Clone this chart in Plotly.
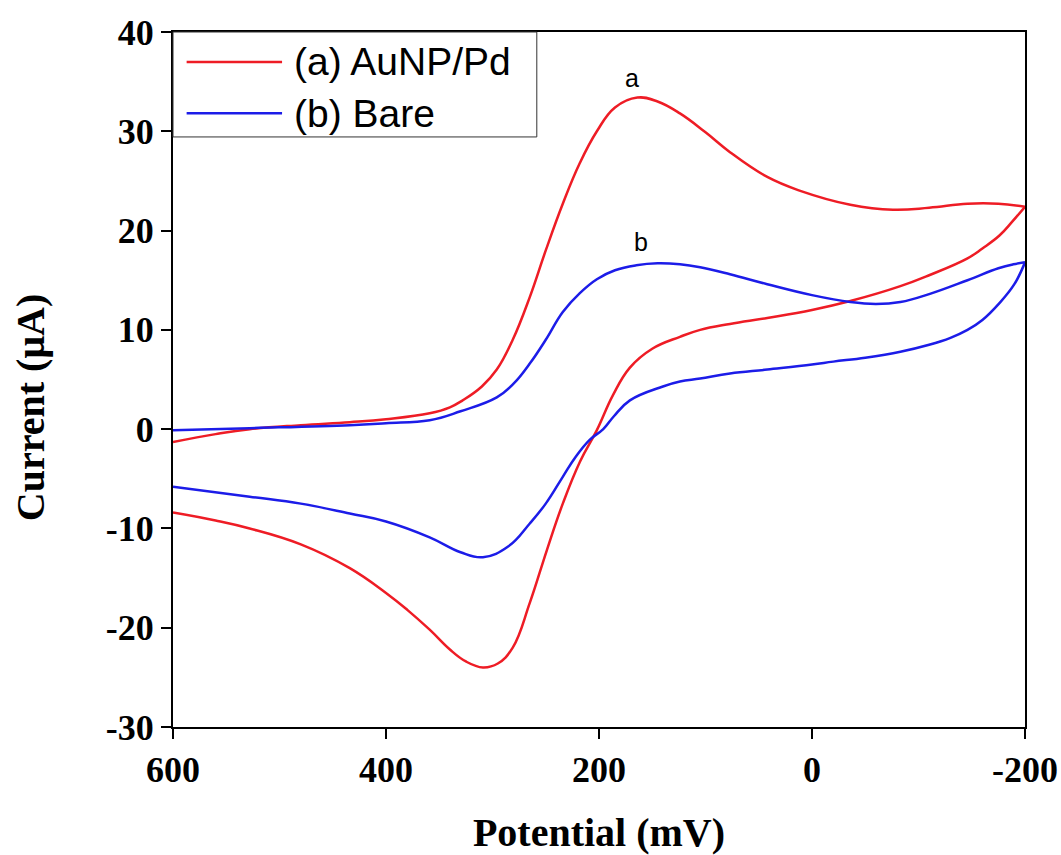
import plotly.graph_objects as go

# ---- data (potential in mV, current in µA) ----
pot_a_fwd = [600, 560, 528, 480, 434, 400, 359, 340, 328, 310, 296, 281, 265, 250, 234, 218, 202, 185, 164, 145, 124, 100, 77, 42, 11, -36, -76, -110, -146, -175, -200]
cur_a_fwd = [-1.3, -0.5, 0.0, 0.4, 0.7, 1.0, 1.6, 2.2, 2.9, 4.3, 6.0, 9.0, 13.3, 18.0, 22.7, 26.8, 30.0, 32.4, 33.4, 33.0, 31.8, 29.9, 27.9, 25.4, 24.0, 22.6, 22.1, 22.3, 22.7, 22.7, 22.4]
pot_a_rev = [-200, -188, -176, -160, -146, -110, -83, -36, 0, 42, 77, 105, 124, 150, 171, 187, 202, 218, 234, 249, 265, 281, 295, 309, 325, 340, 359, 380, 400, 434, 480, 528, 560, 600]
cur_a_rev = [22.4, 20.9, 19.5, 18.2, 17.2, 15.5, 14.4, 12.9, 12.0, 11.2, 10.6, 10.0, 9.3, 8.1, 6.2, 3.4, -0.1, -3.3, -7.5, -12.2, -17.5, -22.0, -23.6, -24.0, -23.4, -22.2, -20.2, -18.2, -16.5, -14.0, -11.6, -10.0, -9.2, -8.4]

pot_b_fwd = [600, 528, 434, 400, 359, 330, 296, 280, 265, 250, 234, 218, 202, 185, 165, 145, 124, 105, 77, 42, 0, -36, -60, -83, -110, -146, -175, -189, -200]
cur_b_fwd = [-0.1, 0.1, 0.4, 0.6, 0.9, 1.8, 3.2, 4.6, 6.6, 9.0, 11.8, 13.7, 15.1, 16.0, 16.5, 16.7, 16.6, 16.3, 15.6, 14.6, 13.5, 12.8, 12.6, 12.8, 13.6, 15.0, 16.2, 16.6, 16.8]
pot_b_rev = [-200, -190, -176, -160, -146, -130, -110, -83, -50, -20, 0, 42, 77, 105, 124, 140, 171, 186, 196, 209, 222, 234, 250, 265, 285, 309, 330, 359, 400, 434, 480, 528, 600]
cur_b_rev = [16.8, 14.6, 12.7, 11.0, 10.0, 9.2, 8.5, 7.8, 7.2, 6.8, 6.5, 6.0, 5.6, 5.1, 4.8, 4.3, 2.9, 1.3, 0.0, -1.1, -2.8, -4.8, -7.5, -9.5, -11.8, -12.9, -12.4, -10.9, -9.3, -8.5, -7.5, -6.8, -5.8]

series_names = ["(a) AuNP/Pd", "(b) Bare"]
series_colors = ["#EE1C25", "#1C1CE8"]
x_ticks = [600, 400, 200, 0, -200]
x_tick_text = ["600", "400", "200", "0", "-200"]
y_ticks = [-30, -20, -10, 0, 10, 20, 30, 40]
y_tick_text = ["-30", "-20", "-10", "0", "10", "20", "30", "40"]

fig = go.Figure()
# forward and reverse sweeps drawn as two spline pieces (gap at the vertex avoids overshoot)
fig.add_trace(go.Scatter(x=pot_a_fwd + [None] + pot_a_rev, y=cur_a_fwd + [None] + cur_a_rev,
                         mode="lines", name=series_names[0], connectgaps=False,
                         line=dict(color=series_colors[0], width=2.5, shape="spline", smoothing=1.2)))
fig.add_trace(go.Scatter(x=pot_b_fwd + [None] + pot_b_rev, y=cur_b_fwd + [None] + cur_b_rev,
                         mode="lines", name=series_names[1], connectgaps=False,
                         line=dict(color=series_colors[1], width=2.5, shape="spline", smoothing=1.2)))

serif = "Liberation Serif, Times New Roman, serif"
sans = "Liberation Sans, Arial, sans-serif"

fig.update_xaxes(range=[600, -200], tickvals=x_ticks, ticktext=x_tick_text, ticks="outside", ticklen=10, tickwidth=2,
                 tickcolor="black", showline=True, linecolor="black", linewidth=2, mirror=True,
                 showgrid=False, zeroline=False, automargin=False,
                 tickfont=dict(family=serif, size=36, color="black", weight="bold"),
                 title=dict(text="Potential (mV)", standoff=34,
                            font=dict(family=serif, size=40, color="black", weight="bold")))
fig.update_yaxes(range=[-30, 40], tickvals=y_ticks, ticktext=y_tick_text, ticks="outside", ticklen=10, tickwidth=2,
                 tickcolor="black", showline=True, linecolor="black", linewidth=2, mirror=True,
                 showgrid=False, zeroline=False, automargin=False,
                 tickfont=dict(family=serif, size=36, color="black", weight="bold"))

# manual legend (box, line samples, labels)
shapes = [dict(type="rect", xref="paper", yref="paper", x0=0.0, x1=0.427, y0=0.849, y1=1.0,
               line=dict(color="#333333", width=1), fillcolor="white", layer="above")]
leg_y = [0.957, 0.883]
annotations = []
for name, col, yy in zip(series_names, series_colors, leg_y):
    shapes.append(dict(type="line", xref="paper", yref="paper", x0=0.016, x1=0.128, y0=yy, y1=yy,
                       line=dict(color=col, width=2.5), layer="above"))
    annotations.append(dict(xref="paper", yref="paper", x=0.140, y=yy, text=name, showarrow=False,
                            xanchor="left", yanchor="middle",
                            font=dict(family=sans, size=39, color="black")))

# y-axis title
annotations.append(dict(xref="paper", yref="paper", x=-0.168, y=0.46, text="Current (μA)",
                        textangle=-90, showarrow=False, xanchor="center", yanchor="middle",
                        font=dict(family=serif, size=40, color="black", weight="bold")))

# curve labels
annotations.append(dict(x=169, y=35.4, text="a", showarrow=False,
                        font=dict(family=sans, size=25, color="black")))
annotations.append(dict(x=161, y=18.8, text="b", showarrow=False,
                        font=dict(family=sans, size=25, color="black")))

fig.update_layout(width=1061, height=855, margin=dict(l=173, r=36, t=32, b=128),
                  paper_bgcolor="white", plot_bgcolor="white", showlegend=False,
                  shapes=shapes, annotations=annotations)

fig.write_html("out.html")
